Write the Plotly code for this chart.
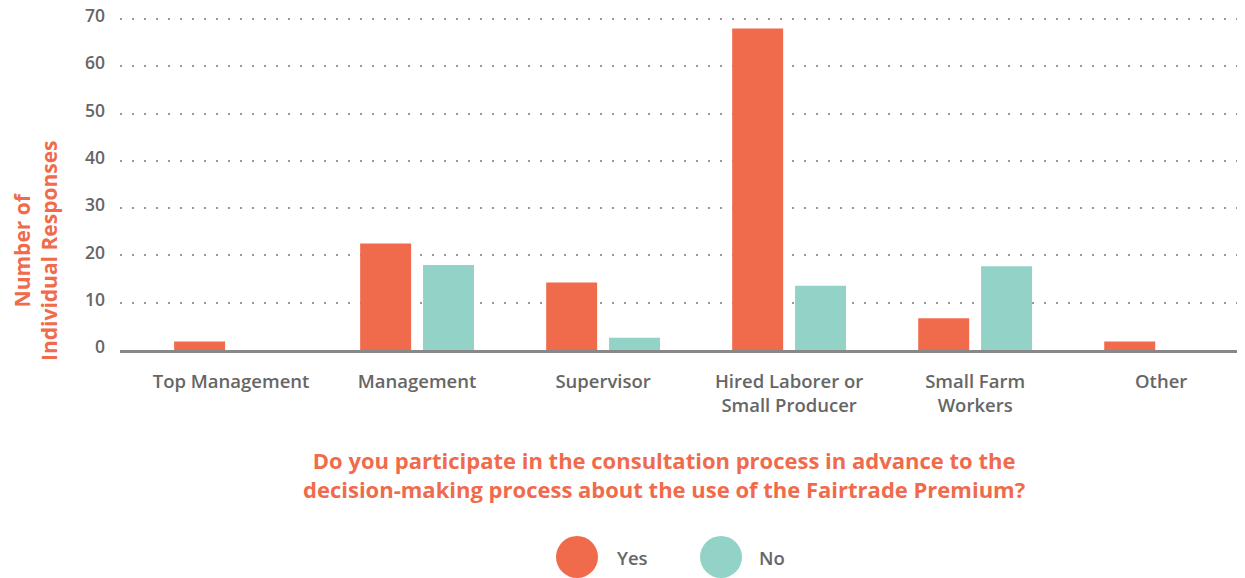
import plotly.graph_objects as go

categories = ["Top Management", "Management", "Supervisor", "Hired Laborer or<br>Small Producer",
              "Small Farm<br>Workers", "Other"]
yes_values = [1.8, 22.5, 14.3, 68.0, 6.7, 1.8]
no_values = [0, 18.0, 2.6, 13.6, 17.7, 0]
series_names = ["Yes", "No"]
y_ticks = [0, 10, 20, 30, 40, 50, 60, 70]

ORANGE = "#F06B4C"
TEAL = "#93D2C6"
GREY = "#666666"
FONT = "Open Sans"

# page is rendered with an 8px body margin; plot area in figure pixels
L, R, T, B = 112, 1235, 11, 342
PPU = (B - T) / 70.0          # pixels per data unit
T2 = 7                        # a little headroom so the 70 gridline is drawn
Y_TOP = 70 + (T - T2) / PPU
PW, PH = R - L, B - T2


def px(xp):
    return (xp - 8 - L) / PW


def py(yp):
    return (B - (yp - 8)) / PH


x_idx = list(range(len(categories)))

fig = go.Figure()
fig.add_trace(go.Bar(x=x_idx, y=yes_values, name=series_names[0], marker_color=ORANGE,
                     width=0.274, offset=-0.306, marker_line_width=0))
fig.add_trace(go.Bar(x=x_idx, y=no_values, name=series_names[1], marker_color=TEAL,
                     width=0.274, offset=0.032, marker_line_width=0))

fig.update_layout(
    width=1245, height=578,
    margin=dict(l=L, r=1245 - R, t=T2, b=578 - B, autoexpand=False),
    plot_bgcolor="white", paper_bgcolor="white",
    showlegend=False,
    font=dict(family=FONT, color=GREY, size=16),
)
fig.update_xaxes(
    tickmode="array", tickvals=x_idx, ticktext=categories,
    range=[-0.597, 5.44], showgrid=False, zeroline=False,
    showline=True, linecolor="#888888", linewidth=2.5,
    ticks="", ticklabelstandoff=13,
    tickfont=dict(family=FONT, size=18.5, color=GREY, weight=600),
)
fig.update_yaxes(
    range=[0, Y_TOP], tickvals=y_ticks, showgrid=True, gridcolor="#999999", gridwidth=2,
    griddash="2px,10px", zeroline=False, showline=False, ticks="",
    ticklabelstandoff=14, ticklabelshift=-3, ticklabeloverflow="allow",
    tickfont=dict(family=FONT, size=17.5, color=GREY, weight=600),
)

# axis titles
fig.add_annotation(text="Number of<br>Individual Responses", xref="paper", yref="paper",
                   x=px(35), y=py(250), textangle=-90, showarrow=False,
                   xanchor="center", yanchor="middle", borderpad=0,
                   font=dict(family=FONT, size=21, color=ORANGE, weight=700))
fig.add_annotation(text="Do you participate in the consultation process in advance to the<br>"
                        "decision-making process about the use of the Fairtrade Premium?",
                   xref="paper", yref="paper", x=px(664), y=py(474),
                   showarrow=False, xanchor="center", yanchor="middle",
                   font=dict(family=FONT, size=22, color=ORANGE, weight=700))

# legend drawn manually
legend_items = [(series_names[0], ORANGE, 577, 615), (series_names[1], TEAL, 721, 757)]
for name, col, cx, tx in legend_items:
    fig.add_shape(type="circle", xref="paper", yref="paper",
                  x0=px(cx - 21), x1=px(cx + 21), y0=py(578), y1=py(536),
                  fillcolor=col, line_width=0)
    fig.add_annotation(text=name, xref="paper", yref="paper", x=px(tx),
                       y=py(557), showarrow=False, xanchor="left", yanchor="middle",
                       font=dict(family=FONT, size=18.5, color=GREY, weight=600))

fig.write_html("out.html")
